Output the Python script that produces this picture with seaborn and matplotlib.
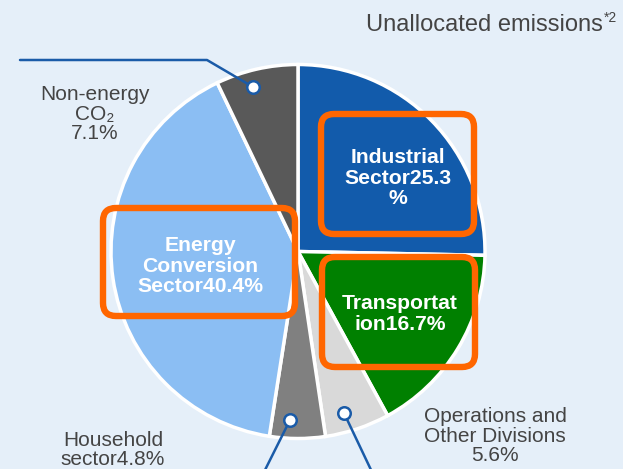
import matplotlib
matplotlib.use("Agg")
import matplotlib.pyplot as plt
import seaborn as sns
from matplotlib.patches import FancyBboxPatch

sns.set_style("white")
plt.rcParams['font.family'] = ['Liberation Sans', 'DejaVu Sans']

# Data
categories = ["Industrial Sector", "Transportation", "Operations and Other Divisions",
              "Household sector", "Energy Conversion Sector", "Non-energy CO2"]
shares = [25.3, 16.7, 5.6, 4.8, 40.4, 7.1]
colors = ["#125BAB", "#008000", "#D9D9D9", "#808080", "#8BBEF3", "#595959"]
explode = [0.0, 0.025, 0.0, 0.0, 0.0, 0.0]
inside_labels = ["Industrial\nSector25.3\n%", "Transportat\nion16.7%", "Energy\nConversion\nSector40.4%"]
outside_labels = ["Non-energy\nCO\u2082\n7.1%", "Household\nsector4.8%", "Operations and\nOther Divisions\n5.6%"]
title_text = "Unallocated emissions"

W, H = 623, 469
BG = "#E5EFF9"
fig = plt.figure(figsize=(W / 100, H / 100), dpi=100, facecolor=BG)
ax = fig.add_axes([0, 0, 1, 1])
ax.set_facecolor(BG)
ax.set_xlim(0, W)
ax.set_ylim(0, H)
ax.set_aspect("equal")
ax.axis("off")

def Y(y):
    return H - y

cx, cy, r = 298, Y(251.5), 187
ax.pie(shares, colors=colors, startangle=90, counterclock=False, explode=explode,
       center=(cx, cy), radius=r,
       wedgeprops=dict(edgecolor="white", linewidth=2.5))
ax.set_xlim(0, W)
ax.set_ylim(0, H)

# Orange rounded boxes
orange = "#FF6600"
boxes = [(321, 114, 153, 120), (322, 257, 153, 110), (103, 208, 192, 108)]
for (x, y, w, h) in boxes:
    p = FancyBboxPatch((x, Y(y + h)), w, h, boxstyle="round,pad=0,rounding_size=13",
                       fill=False, edgecolor=orange, linewidth=4.6, zorder=5)
    ax.add_patch(p)

# Inside labels
ins = dict(ha="center", va="center", color="white", fontsize=15.2,
           fontweight="bold", linespacing=1.08, zorder=6)
ax.text(398, Y(178), inside_labels[0], **ins)
ax.text(400, Y(314), inside_labels[1], **ins)
ax.text(200, Y(266), inside_labels[2], **ins)

# Outside labels
grey = "#444444"
outs = dict(ha="center", va="center", color=grey, fontsize=15, linespacing=1.05)
ax.text(95, Y(114), outside_labels[0], **outs)
ax.text(113, Y(450), outside_labels[1], **outs)
ax.text(495, Y(436), outside_labels[2], **outs)

# Title
ax.text(603, Y(25), title_text, ha="right", va="center", color=grey, fontsize=17)
ax.text(604, Y(18), "*2", ha="left", va="center", color=grey, fontsize=10)

# Leader lines
blue = "#1A5BA8"
ax.plot([20, 207, 253], [Y(60), Y(60), Y(87)], color=blue, linewidth=1.8, zorder=7)
ax.plot([290, 264], [Y(420), Y(472)], color=blue, linewidth=1.8, zorder=7)
ax.plot([344, 372], [Y(413), Y(472)], color=blue, linewidth=1.8, zorder=7)
for (x, y) in [(253, 87), (290, 420), (344, 413)]:
    ax.plot([x], [Y(y)], marker="o", markersize=9, markerfacecolor="white",
            markeredgecolor=blue, markeredgewidth=1.8, zorder=8)

fig.savefig("out.png", dpi=100, facecolor=BG)
